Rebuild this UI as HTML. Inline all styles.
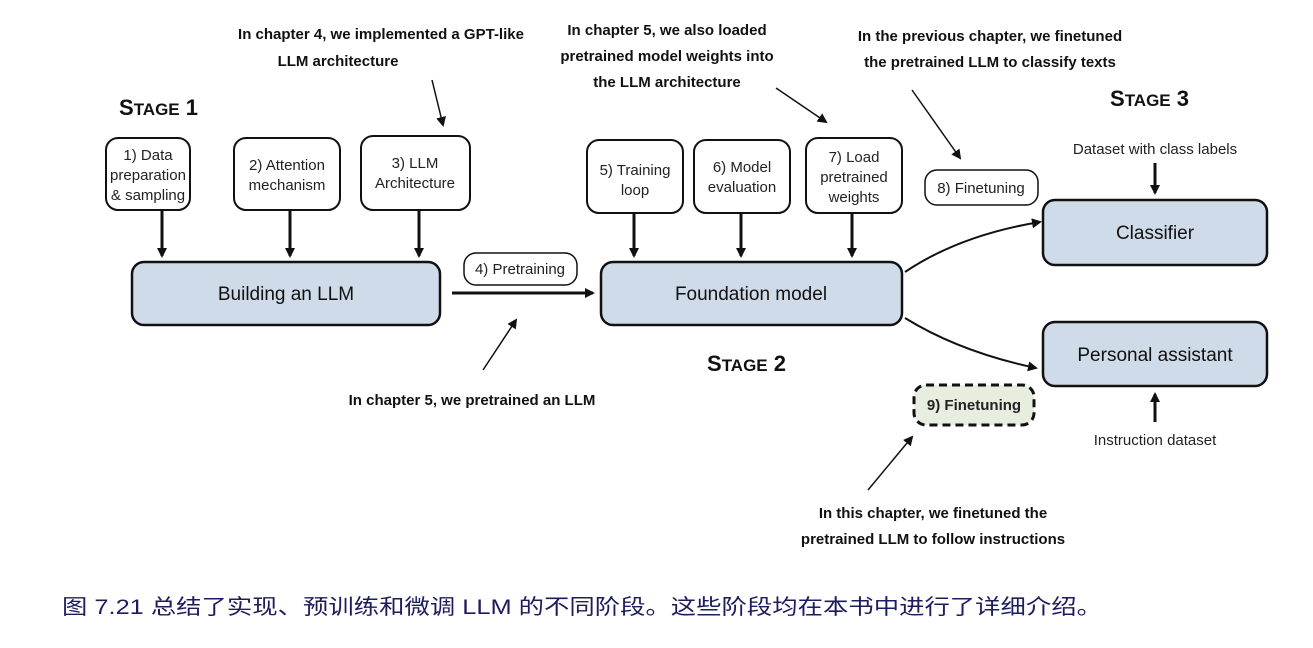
<!DOCTYPE html>
<html><head><meta charset="utf-8"><style>
html,body{margin:0;padding:0;background:#fff;}
svg{display:block;}
.n{font-family:"Liberation Sans",sans-serif;font-size:15px;fill:#222;text-anchor:middle;}
.b{font-family:"Liberation Sans",sans-serif;font-size:19px;fill:#111;text-anchor:middle;}
.a{font-family:"Liberation Sans Narrow","Liberation Sans",sans-serif;font-weight:bold;font-size:15px;fill:#111;text-anchor:middle;}
.s{font-family:"Liberation Sans",sans-serif;font-weight:bold;fill:#111;}
</style></head><body>
<svg width="1313" height="648" viewBox="0 0 1313 648" xmlns="http://www.w3.org/2000/svg">
<defs><marker id="ar" markerWidth="10" markerHeight="10" refX="8" refY="5" orient="auto" markerUnits="userSpaceOnUse"><path d="M0,0 L10,5 L0,10 z" fill="#111"/></marker></defs>
<g stroke="#111" fill="none">
<!-- stage1 small boxes -->
<rect x="106" y="138" width="84" height="72" rx="12" stroke-width="2" fill="#fff"/>
<rect x="234" y="138" width="106" height="72" rx="12" stroke-width="2" fill="#fff"/>
<rect x="361" y="136" width="109" height="74" rx="12" stroke-width="2" fill="#fff"/>
<rect x="132" y="262" width="308" height="63" rx="12" stroke-width="2.5" fill="#cfdbe8"/>
<rect x="464" y="253" width="113" height="32" rx="12" stroke-width="1.5" fill="#fff"/>
<rect x="587" y="140" width="96" height="73" rx="12" stroke-width="2" fill="#fff"/>
<rect x="694" y="140" width="96" height="73" rx="12" stroke-width="2" fill="#fff"/>
<rect x="806" y="138" width="96" height="75" rx="12" stroke-width="2" fill="#fff"/>
<rect x="601" y="262" width="301" height="63" rx="12" stroke-width="2.5" fill="#cfdbe8"/>
<rect x="925" y="170" width="113" height="35" rx="12" stroke-width="1.5" fill="#fff"/>
<rect x="1043" y="200" width="224" height="65" rx="12" stroke-width="2.5" fill="#cfdbe8"/>
<rect x="1043" y="322" width="224" height="64" rx="12" stroke-width="2.5" fill="#cfdbe8"/>
<rect x="914" y="385" width="120" height="40" rx="12" stroke-width="3" stroke-dasharray="8,5" fill="#e8eedf"/>
<!-- arrows -->
<g stroke-width="3" marker-end="url(#ar)">
<line x1="162" y1="210" x2="162" y2="256"/>
<line x1="290" y1="210" x2="290" y2="256"/>
<line x1="419" y1="210" x2="419" y2="256"/>
<line x1="634" y1="213" x2="634" y2="256"/>
<line x1="741" y1="213" x2="741" y2="256"/>
<line x1="852" y1="213" x2="852" y2="256"/>
<line x1="452" y1="293" x2="593" y2="293"/>
<line x1="1155" y1="163" x2="1155" y2="193"/>
<line x1="1155" y1="422" x2="1155" y2="394"/>
</g>
<g stroke-width="2" marker-end="url(#ar)">
<path d="M905,272 Q960,235 1040,222"/>
<path d="M905,318 Q960,352 1036,368"/>
</g>
<g stroke-width="1.5" marker-end="url(#ar)">
<line x1="432" y1="80" x2="443" y2="125"/>
<line x1="483" y1="370" x2="516" y2="320"/>
<line x1="776" y1="88" x2="826" y2="122"/>
<line x1="912" y1="90" x2="960" y2="158"/>
<line x1="868" y1="490" x2="912" y2="437"/>
</g>
</g>
<text class="s" x="119" y="115" font-size="22">S<tspan font-size="17">TAGE</tspan> 1</text>
<text class="s" x="707" y="371" font-size="22">S<tspan font-size="17">TAGE</tspan> 2</text>
<text class="s" x="1110" y="106" font-size="22">S<tspan font-size="17">TAGE</tspan> 3</text>
<text class="n" x="148" y="160">1) Data</text><text class="n" x="148" y="180">preparation</text><text class="n" x="148" y="200">&amp; sampling</text>
<text class="n" x="287" y="170">2) Attention</text><text class="n" x="287" y="190">mechanism</text>
<text class="n" x="415" y="168">3) LLM</text><text class="n" x="415" y="188">Architecture</text>
<text class="b" x="286" y="300">Building an LLM</text>
<text class="n" x="520" y="274">4) Pretraining</text>
<text class="n" x="635" y="175">5) Training</text><text class="n" x="635" y="195">loop</text>
<text class="n" x="742" y="172">6) Model</text><text class="n" x="742" y="192">evaluation</text>
<text class="n" x="854" y="162">7) Load</text><text class="n" x="854" y="182">pretrained</text><text class="n" x="854" y="202">weights</text>
<text class="b" x="751" y="300">Foundation model</text>
<text class="n" x="981" y="193">8) Finetuning</text>
<text class="b" x="1155" y="239">Classifier</text>
<text class="b" x="1155" y="361">Personal assistant</text>
<text class="n" x="974" y="410" style="font-weight:bold">9) Finetuning</text>
<text class="n" x="1155" y="154">Dataset with class labels</text>
<text class="n" x="1155" y="445">Instruction dataset</text>
<text class="a" x="381" y="39">In chapter 4, we implemented a GPT-like</text><text class="a" x="338" y="66">LLM architecture</text>
<text class="a" x="667" y="35">In chapter 5, we also loaded</text><text class="a" x="667" y="61">pretrained model weights into</text><text class="a" x="667" y="87">the LLM architecture</text>
<text class="a" x="990" y="41">In the previous chapter, we finetuned</text><text class="a" x="990" y="67">the pretrained LLM to classify texts</text>
<text class="a" x="472" y="405">In chapter 5, we pretrained an LLM</text>
<text class="a" x="933" y="518">In this chapter, we finetuned the</text><text class="a" x="933" y="544">pretrained LLM to follow instructions</text>
<text x="62" y="614" font-family="'Liberation Sans','Noto Sans CJK SC',sans-serif" font-size="21" fill="#1d1d5c" textLength="1040" lengthAdjust="spacingAndGlyphs">图 7.21 总结了实现、预训练和微调 LLM 的不同阶段。这些阶段均在本书中进行了详细介绍。</text>
</svg>
</body></html>
